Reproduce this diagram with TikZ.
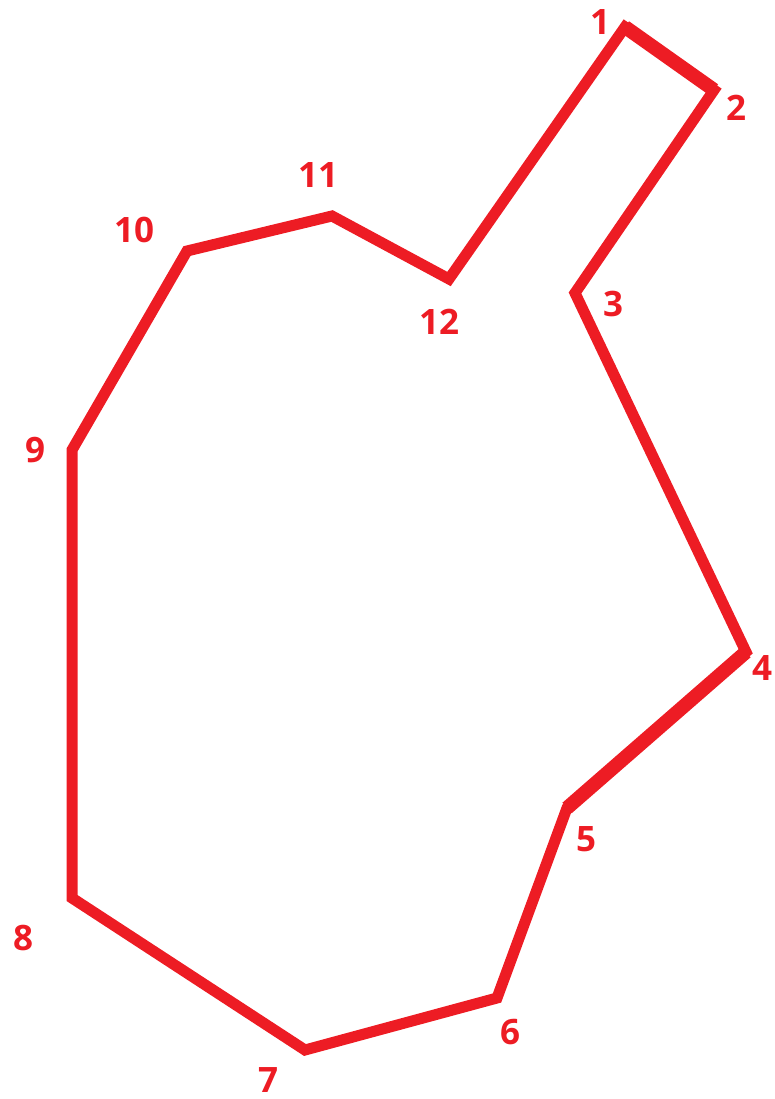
\documentclass[tikz,border=0pt]{standalone}
\usepackage{fontspec}
\setmainfont{Open Sans}
\usetikzlibrary{positioning}
\definecolor{paintred}{RGB}{237,28,36}

\begin{document}
\begin{tikzpicture}[x=1pt,y=-1pt,
  edge/.style={paintred,line width=11pt,line join=miter},
  thickedge/.style={paintred,line width=14pt,line cap=butt},
  num/.style={paintred,inner sep=0pt,font=\fontsize{35}{35}\selectfont\bfseries}]
\useasboundingbox (0,0) rectangle (774,1099);
\coordinate (p1) at (625,27);
\coordinate (p2) at (714,90);
\coordinate (p3) at (575,293);
\coordinate (p4) at (746,652);
\coordinate (p5) at (567,808);
\coordinate (p6) at (497,998);
\coordinate (p7) at (305,1050);
\coordinate (p8) at (72,898);
\coordinate (p9) at (72,450);
\coordinate (p10) at (187,251);
\coordinate (p11) at (332,216);
\coordinate (p12) at (449,279);
\draw[edge] (p1)--(p2)--(p3)--(p4)--(p5)--(p6)--(p7)--(p8)--(p9)--(p10)--(p11)--(p12)--cycle;
\draw[thickedge] (p1)--(p2);
\draw[thickedge] (p4)--(p5);
\node[num] (l1) at (600,22) {1};
\node[num] (l2) at (736,108) {2};
\node[num] (l3) at (613,304) {3};
\node[num] (l4) at (762,668) {4};
\node[num] (l5) at (586,839) {5};
\node[num] (l6) at (510,1032) {6};
\node[num] (l7) at (268,1080) {7};
\node[num] (l8) at (23,938) {8};
\node[num] (l9) at (35,450) {9};
\node[num] (l10) at (134,230) {10};
\node[num] (l11) at (318,175) {11};
\node[num] (l12) at (439,322) {12};
\end{tikzpicture}
\end{document}
